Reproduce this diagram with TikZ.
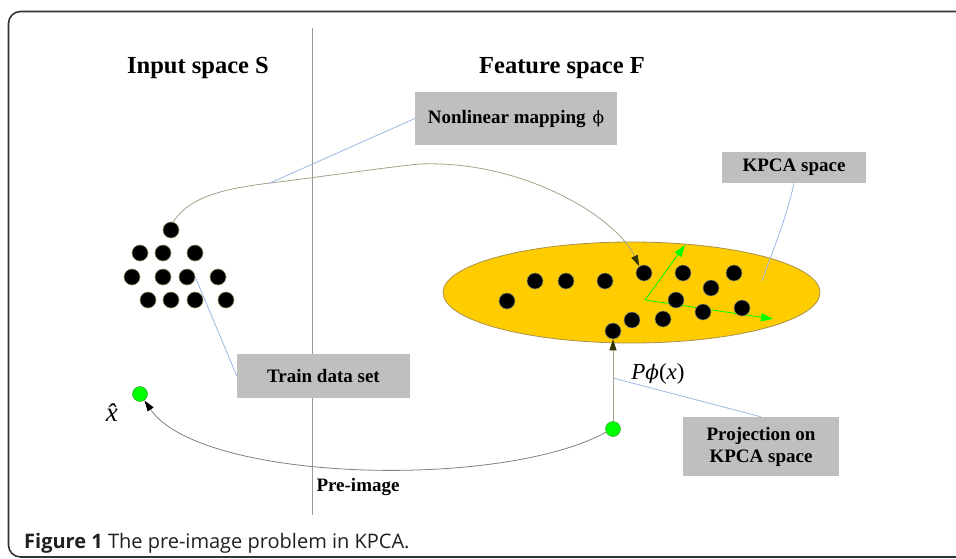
\documentclass[tikz,border=0pt]{standalone}
\usepackage{fontspec}
\setmainfont{Liberation Serif}
\newfontfamily\capfont{Open Sans}
\newfontfamily\symfont{DejaVu Serif}
\usetikzlibrary{arrows.meta,shapes.geometric}
\definecolor{boxgray}{HTML}{BFBFBF}
\definecolor{kpcayellow}{HTML}{FFCC00}
\definecolor{ellborder}{HTML}{A8924A}
\definecolor{dotborder}{HTML}{8C8C66}
\definecolor{curvecol}{HTML}{A3A38A}
\definecolor{tipcol}{HTML}{333300}
\definecolor{callout}{HTML}{9DB9E6}
\definecolor{greenpt}{HTML}{00FF00}
\definecolor{greenbd}{HTML}{3C9C3C}
\definecolor{framecol}{HTML}{333333}
\definecolor{capcol}{HTML}{231F20}
\tikzset{
  bdot/.style={circle,fill=black,draw=dotborder,line width=0.6pt,inner sep=0pt,minimum size=16pt},
  gdot/.style={circle,fill=greenpt,draw=greenbd,line width=0.5pt,inner sep=0pt,minimum size=15pt},
  labelbox/.style={fill=boxgray,inner sep=0pt,font=\fontsize{19}{22}\selectfont\bfseries,align=center},
  title/.style={font=\fontsize{24.5}{28}\selectfont\bfseries},
  mapcurve/.style={draw=curvecol,line width=0.8pt,-{Triangle[length=11pt,width=7pt,fill=tipcol,color=tipcol]}},
  precurve/.style={draw=gray,line width=0.8pt,-{Triangle[length=11pt,width=7pt,fill=black,color=black]}},
  calloutline/.style={draw=callout,line width=0.8pt},
  greenarrow/.style={draw=greenpt,line width=0.8pt,-{Triangle[length=12pt,width=8pt,fill=greenpt,color=greenpt]}},
  divider/.style={draw=gray!80,line width=0.8pt}
}
\begin{document}
\begin{tikzpicture}[x=1pt,y=-1pt]
\clip (0,0) rectangle (956,558);
\fill[white] (0,0) rectangle (956,558);
% frame
\draw[framecol,line width=1.6pt,rounded corners=12pt] (8.5,11.5) rectangle (990,557);
% divider
\coordinate (dtop) at (312,28);
\coordinate (dbot) at (312,515);
\draw[divider] (dtop) -- (dbot);
% titles
\node[title] (tin) at (198,68) {Input space S};
\node[title] (tfe) at (562,68) {Feature space F};
% ellipse
\node[ellipse,fill=kpcayellow,draw=ellborder,line width=0.8pt,minimum width=377pt,minimum height=101pt,inner sep=0pt] (ell) at (631.5,292.5) {};
% input dots
\node[bdot] (s1) at (171,230) {};
\node[bdot] (s21) at (140,253) {};
\node[bdot] (s22) at (163,253) {};
\node[bdot] (s23) at (195,253) {};
\node[bdot] (s31) at (132,277) {};
\node[bdot] (s32) at (163,277) {};
\node[bdot] (s33) at (187,277) {};
\node[bdot] (s34) at (218,277) {};
\node[bdot] (s41) at (148,300) {};
\node[bdot] (s42) at (171,300) {};
\node[bdot] (s43) at (195,300) {};
\node[bdot] (s44) at (226,300) {};
% green axes
\coordinate (ax0) at (645,300);
\coordinate (ax1) at (685,245);
\coordinate (ax2) at (773,319);
\draw[greenarrow] (ax0) -- (ax1);
\draw[greenarrow] (ax0) -- (ax2);
% feature dots
\node[bdot] (e1) at (507,301) {};
\node[bdot] (e2) at (535,281) {};
\node[bdot] (e3) at (566,281) {};
\node[bdot] (e4) at (605,281) {};
\node[bdot] (e5) at (644,273) {};
\node[bdot] (e6) at (683,273) {};
\node[bdot] (e7) at (734,273) {};
\node[bdot] (e8) at (711,288) {};
\node[bdot] (e9) at (676,300) {};
\node[bdot] (e10) at (703,312) {};
\node[bdot] (e11) at (742,308) {};
\node[bdot] (e12) at (663,319) {};
\node[bdot] (e13) at (632,320) {};
\node[bdot] (e14) at (613,331) {};
% green points
\node[gdot] (g1) at (140,394) {};
\node[gdot] (g2) at (613,429) {};
% boxes
\node[labelbox,minimum width=202pt,minimum height=53pt] (nlm) at (516,118.5) {Nonlinear mapping\hspace{7pt}{\mdseries\symfont\fontsize{17}{20}\selectfont ϕ}};
\node[labelbox,minimum width=144pt,minimum height=31pt] (kp) at (794,167.5) {KPCA space};
\node[labelbox,minimum width=173pt,minimum height=44pt] (tr) at (323.5,376) {Train data set};
\node[labelbox,minimum width=156pt,minimum height=59pt] (pj) at (761,446.5) {Projection on\\KPCA space};
% mapping curve
\coordinate (m1) at (270,183);
\coordinate (m2) at (420,164);
\draw[mapcurve] (s1.75) .. controls (190,195) and (230,188) .. (m1)
  .. controls (320,177) and (380,168) .. (m2)
  .. controls (520,160) and (615,215) .. (e5.125);
% projection arrow
\coordinate (pp) at (613,378);
\draw[mapcurve] (g2.north) -- (e14.south);
% pre-image curve
\draw[precurve] (g2.205) .. controls (500,490) and (200,482) .. (g1.-55);
% callouts
\draw[calloutline] (nlm.west) -- (m1);
\coordinate (kpt) at (762,281);
\draw[calloutline] (kp.south) .. controls (786,220) and (772,252) .. (kpt);
\draw[calloutline] (s33.east) -- (tr.west);
\draw[calloutline] (pj.north) -- (pp);
% math labels
\node[font=\fontsize{23}{26}\selectfont] (plab) at (658,374) {\textit{P}{\symfont\itshape\fontsize{20}{24}\selectfont ϕ}(\textit{x})};
\node[font=\fontsize{27}{30}\selectfont] (xhat) at (117,413) {\textit{\^{x}}};
\node[font=\fontsize{19}{22}\selectfont\bfseries] (pre) at (358,487) {Pre-image};
% caption
\node[anchor=base west,inner sep=0pt,text=capcol,font=\capfont\fontsize{20}{22}\selectfont] (cap) at (24,548) {\textbf{Figure 1} The pre-image problem in KPCA.};
\end{tikzpicture}
\end{document}
